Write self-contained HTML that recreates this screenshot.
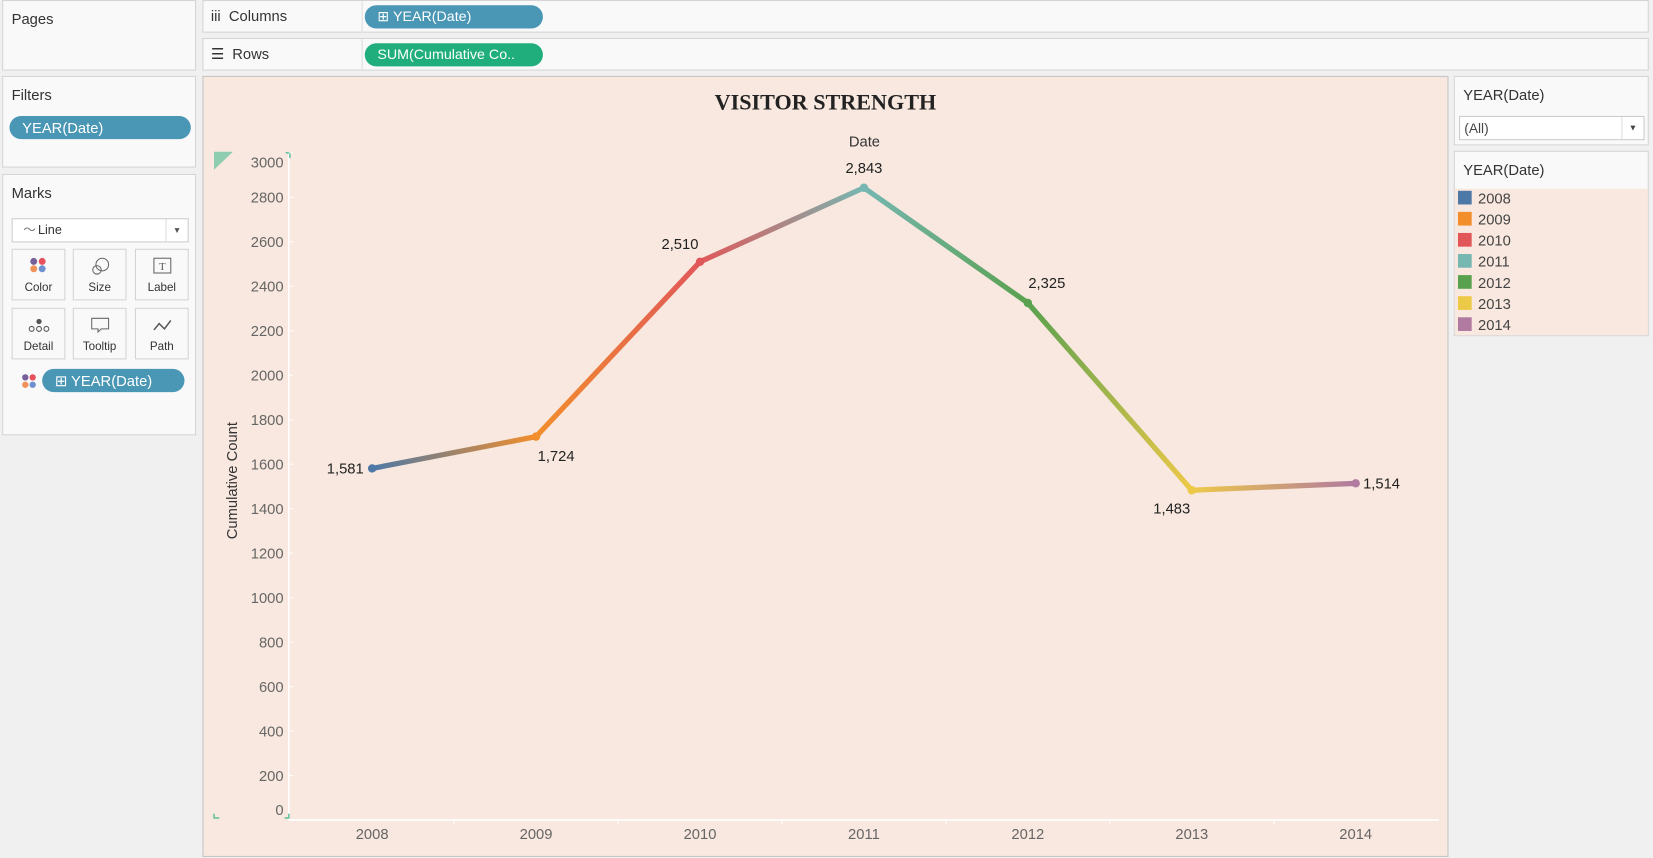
<!DOCTYPE html>
<html><head><meta charset="utf-8">
<style>
html,body{margin:0;padding:0;width:1653px;height:858px;overflow:hidden;background:#f0f0f0;font-family:"Liberation Sans",sans-serif;}
#wrap{position:absolute;left:0;top:0;width:1568px;height:814px;transform-origin:0 0;transform:scale(1.05421,1.05405);background:#f0f0f0;}
.panel{position:absolute;background:#f9f9f9;border:1px solid #d4d4d4;box-sizing:border-box;}
.ptitle{position:absolute;left:8px;top:9px;font-size:14px;color:#333;}
.pill{position:absolute;border-radius:12px;color:#fff;font-size:14px;line-height:22px;box-sizing:border-box;padding-left:12px;}
.mbtn{position:absolute;width:51px;height:49px;border:1px solid #d4d4d4;background:#f9f9f9;box-sizing:border-box;font-size:11px;color:#333;text-align:center;}
.mbtn span{position:absolute;left:0;right:0;bottom:5px;}
.leg{position:absolute;left:3px;font-size:14px;color:#444;}
.leg i{display:inline-block;width:13px;height:13px;vertical-align:-1px;margin-right:6px;}
</style></head><body>
<div id="wrap">
  <div class="panel" style="left:2px;top:0;width:184px;height:67px;"><div class="ptitle">Pages</div></div>
  <div class="panel" style="left:2px;top:72px;width:184px;height:87px;">
    <div class="ptitle">Filters</div>
    <div class="pill" style="left:6px;top:37px;width:172px;background:#4a96b5;">YEAR(Date)</div>
  </div>
  <div class="panel" style="left:2px;top:165px;width:184px;height:248px;">
    <div class="ptitle">Marks</div>
    <div style="position:absolute;left:8px;top:41px;width:168px;height:23px;border:1px solid #ccc;background:#fff;box-sizing:border-box;font-size:12px;color:#333;line-height:21px;padding-left:24px;">Line<span style="position:absolute;left:10px;top:0;color:#777;">〜</span><span style="position:absolute;right:0;top:0;width:20px;border-left:1px solid #ddd;text-align:center;font-size:8px;color:#555;">▼</span></div>
    <div class="mbtn" style="left:8px;top:70px;"><svg width="20" height="20" style="margin-top:6px"><circle cx="5" cy="5" r="3.3" fill="#76609a"/><circle cx="13" cy="5" r="3.3" fill="#e8505b"/><circle cx="5" cy="12" r="3.3" fill="#f1915a"/><circle cx="13" cy="12" r="3.3" fill="#6f8fd0"/></svg><span>Color</span></div>
    <div class="mbtn" style="left:66px;top:70px;"><svg width="20" height="20" style="margin-top:6px"><circle cx="12" cy="8" r="6" fill="none" stroke="#666"/><circle cx="7" cy="13" r="4" fill="none" stroke="#666"/></svg><span>Size</span></div>
    <div class="mbtn" style="left:125px;top:70px;"><svg width="20" height="20" style="margin-top:6px"><rect x="2" y="2" width="16" height="14" fill="none" stroke="#666"/><text x="10" y="13" font-size="10" text-anchor="middle" fill="#555" font-family="Liberation Serif">T</text></svg><span>Label</span></div>
    <div class="mbtn" style="left:8px;top:126px;"><svg width="24" height="20" style="margin-top:6px"><circle cx="12" cy="6" r="2.5" fill="#555"/><circle cx="5" cy="13" r="2.3" fill="none" stroke="#555"/><circle cx="12" cy="13" r="2.3" fill="none" stroke="#555"/><circle cx="19" cy="13" r="2.3" fill="none" stroke="#555"/></svg><span>Detail</span></div>
    <div class="mbtn" style="left:66px;top:126px;"><svg width="20" height="20" style="margin-top:6px"><path d="M2 3h16v10H11l-3 3v-3H2z" fill="none" stroke="#666"/></svg><span>Tooltip</span></div>
    <div class="mbtn" style="left:125px;top:126px;"><svg width="20" height="20" style="margin-top:6px"><path d="M2 14l5-6 5 5 6-8" fill="none" stroke="#555" stroke-width="1.4"/></svg><span>Path</span></div>
    <svg width="16" height="16" style="position:absolute;left:17px;top:188px;"><circle cx="4" cy="4" r="3" fill="#76609a"/><circle cx="11" cy="4" r="3" fill="#e8505b"/><circle cx="4" cy="11" r="3" fill="#f1915a"/><circle cx="11" cy="11" r="3" fill="#6f8fd0"/></svg>
    <div class="pill" style="left:37px;top:184px;width:135px;background:#4a96b5;">⊞ YEAR(Date)</div>
  </div>

  <div class="panel" style="left:192px;top:0;width:1372px;height:31px;">
    <div style="position:absolute;left:7px;top:6px;font-size:14px;color:#333;">iii&nbsp; Columns</div>
    <div style="position:absolute;left:150px;top:0;bottom:0;border-left:1px solid #ddd;"></div>
    <div class="pill" style="left:153px;top:4px;width:169px;background:#4a96b5;font-size:13.5px;">⊞ YEAR(Date)</div>
  </div>
  <div class="panel" style="left:192px;top:36px;width:1372px;height:31px;">
    <div style="position:absolute;left:7px;top:6px;font-size:14px;color:#333;">☰&nbsp; Rows</div>
    <div style="position:absolute;left:150px;top:0;bottom:0;border-left:1px solid #ddd;"></div>
    <div class="pill" style="left:153px;top:4px;width:169px;background:#1fae7c;font-size:13.5px;">SUM(Cumulative Co..</div>
  </div>

  <div style="position:absolute;left:192px;top:72px;width:1182px;height:741px;background:#f9e8df;border:1px solid #c4c4c4;box-sizing:border-box;">
    <svg id="chart" width="1180" height="739" style="position:absolute;left:0;top:0;"></svg>
  </div>

  <div class="panel" style="left:1379px;top:72px;width:185px;height:66px;">
    <div class="ptitle" style="top:9px;">YEAR(Date)</div>
    <div style="position:absolute;left:4px;top:37px;width:176px;height:23px;background:#fff;border:1px solid #ccc;box-sizing:border-box;font-size:13px;color:#444;line-height:21px;padding-left:4px;">(All)<span style="position:absolute;right:0;top:0;width:20px;border-left:1px solid #ddd;text-align:center;font-size:8px;">▼</span></div>
  </div>
  <div class="panel" style="left:1379px;top:143px;width:185px;height:176px;">
    <div class="ptitle" style="top:9px;">YEAR(Date)</div>
    <div id="legbody" style="position:absolute;left:0;top:35px;right:0;bottom:0;background:#f9e8df;"></div>
  </div>
</div>
<script>
const years = ['2008','2009','2010','2011','2012','2013','2014'];
const counts = [1581,1724,2510,2843,2325,1483,1514];
const colors = ['#4e79a7','#f28e2b','#e15759','#76b7b2','#59a14f','#edc948','#b07aa1'];
const yTicks = [0,200,400,600,800,1000,1200,1400,1600,1800,2000,2200,2400,2600,2800,3000];
const labelPos = ['left','below','aboveleft','above','aboveright','belowleft','right'];

const NS='http://www.w3.org/2000/svg';
const svg=document.getElementById('chart');
const X0=160, XSTEP=155.5, Y0=705, YMAX=3000, YTOP=72;
function xPos(i){return X0+i*XSTEP;}
function yPos(v){return Y0-(v/YMAX)*(Y0-YTOP);}
function el(tag,attrs,txt){const e=document.createElementNS(NS,tag);for(const k in attrs)e.setAttribute(k,attrs[k]);if(txt!==undefined)e.textContent=txt;svg.appendChild(e);return e;}

let t=el('text',{x:590,y:31,'text-anchor':'middle','font-size':'21','font-weight':'bold','font-family':'Liberation Serif, serif','fill':'#222'},'VISITOR STRENGTH');

t=el('text',{x:627,y:66,'text-anchor':'middle','font-size':'14','fill':'#333'},'Date');


let a=el('line',{x1:81,y1:72,x2:81,y2:Y0,stroke:'#fff','stroke-width':1.5});

a=el('line',{x1:81,y1:Y0,x2:1172,y2:Y0,stroke:'#fff','stroke-width':1.5});

el('path',{d:'M10 71h18l-18 17z',fill:'#8fcdb0'});
el('path',{d:'M78 72h4v5',fill:'none',stroke:'#6cc0a0','stroke-width':1.5});
el('path',{d:'M10 699v4h5',fill:'none',stroke:'#6cc0a0','stroke-width':1.5});
el('path',{d:'M77 703h4v-4',fill:'none',stroke:'#6cc0a0','stroke-width':1.5});

yTicks.forEach(v=>{
  let y=yPos(v)+5; y=Math.max(86,Math.min(700,y));
  const tx=el('text',{x:76,y:y,'text-anchor':'end','font-size':'14','fill':'#666'},String(v));
  
  el('line',{x1:81,y1:yPos(v),x2:85,y2:yPos(v),stroke:'#fff'});
});
t=el('text',{x:0,y:0,'text-anchor':'middle','font-size':'14','fill':'#333',transform:'translate(32,383) rotate(-90)'},'Cumulative Count');

years.forEach((yr,i)=>{
  const tx=el('text',{x:xPos(i),y:723,'text-anchor':'middle','font-size':'14','fill':'#666'},yr);
  
  if(i>0){el('line',{x1:xPos(i)-XSTEP/2,y1:Y0,x2:xPos(i)-XSTEP/2,y2:Y0+4,stroke:'#fff'});}
});

const defs=el('defs',{});
for(let i=0;i<years.length-1;i++){
  const g=document.createElementNS(NS,'linearGradient');
  g.setAttribute('id','g'+i);g.setAttribute('gradientUnits','userSpaceOnUse');
  g.setAttribute('x1',xPos(i));g.setAttribute('y1',yPos(counts[i]));g.setAttribute('x2',xPos(i+1));g.setAttribute('y2',yPos(counts[i+1]));
  const s1=document.createElementNS(NS,'stop');s1.setAttribute('offset','0');s1.setAttribute('stop-color',colors[i]);
  const s2=document.createElementNS(NS,'stop');s2.setAttribute('offset','1');s2.setAttribute('stop-color',colors[i+1]);
  g.appendChild(s1);g.appendChild(s2);defs.appendChild(g);
  const seg=el('line',{x1:xPos(i),y1:yPos(counts[i]),x2:xPos(i+1),y2:yPos(counts[i+1]),stroke:'url(#g'+i+')','stroke-width':5,'stroke-linecap':'round'});
  
  
}
counts.forEach((v,i)=>{
  const c=el('circle',{cx:xPos(i),cy:yPos(v),r:4,fill:colors[i]});
  
  
  const x=xPos(i),y=yPos(v);let lx=x,ly=y,anc='middle';
  const p=labelPos[i];
  if(p==='left'){lx=x-8;ly=y+5;anc='end';}
  else if(p==='right'){lx=x+7;ly=y+5;anc='start';}
  else if(p==='below'){lx=x+19;ly=y+23;}
  else if(p==='above'){ly=y-14;}
  else if(p==='aboveleft'){lx=x-19;ly=y-12;}
  else if(p==='aboveright'){lx=x+18;ly=y-14;}
  else if(p==='belowleft'){lx=x-19;ly=y+22;}
  const lb=el('text',{x:lx,y:ly,'text-anchor':anc,'font-size':'14','fill':'#222'},v.toLocaleString('en-US'));
  
  
});

const lg=document.getElementById('legbody');
years.forEach((yr,i)=>{
  const d=document.createElement('div');d.className='leg';d.style.top=(1+i*20)+'px';
  d.innerHTML='<i style="background:'+colors[i]+'"></i>'+yr;
  
  
  lg.appendChild(d);
});
</script>
</body></html>
